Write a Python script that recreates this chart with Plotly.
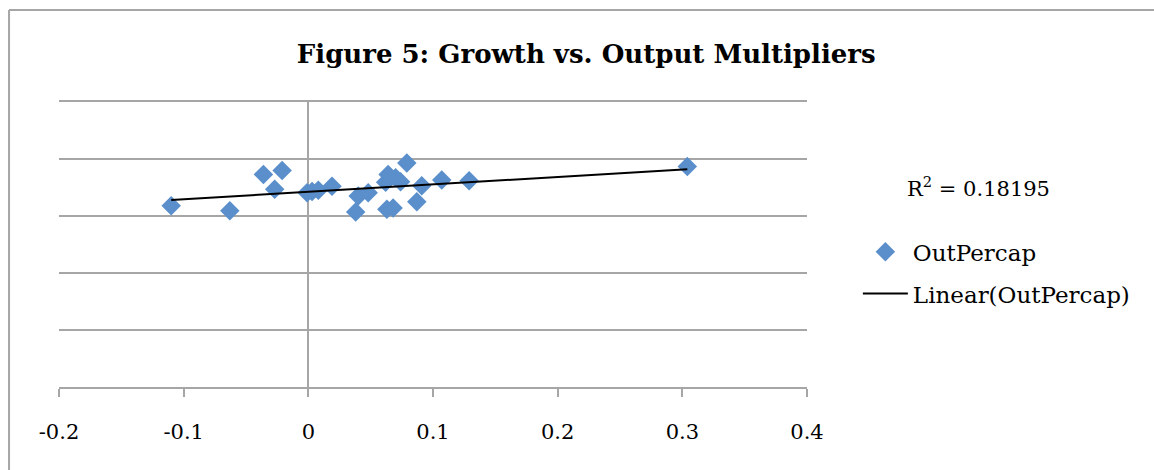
import numpy as np
import plotly.graph_objects as go

# Growth (x) vs. output multiplier per capita (y)
growth = [-0.110, -0.063, -0.036, -0.021, -0.027, -0.001, 0.003, 0.008, 0.019,
          0.038, 0.040, 0.048, 0.063, 0.068, 0.062, 0.064, 0.070, 0.074,
          0.079, 0.087, 0.091, 0.107, 0.129, 0.304]
out_percap = [3.18, 3.09, 3.73, 3.80, 3.47, 3.41, 3.43, 3.45, 3.52,
              3.07, 3.35, 3.41, 3.12, 3.14, 3.59, 3.73, 3.67, 3.60,
              3.93, 3.25, 3.53, 3.63, 3.62, 3.87]
x_ticks = [-0.2, -0.1, 0, 0.1, 0.2, 0.3, 0.4]
x_tick_text = ["-0.2", "-0.1", "0", "0.1", "0.2", "0.3", "0.4"]
r2_label = "R<sup>2</sup> = 0.18195"

# Least-squares trend line over the data span
gx = np.array(growth)
gy = np.array(out_percap)
slope, intercept = np.polyfit(gx, gy, 1)
fit_x = np.array([gx.min(), gx.max()])
fit_y = slope * fit_x + intercept

FONT = "DejaVu Serif"
GRID = "#a6a6a6"

fig = go.Figure()
fig.add_trace(go.Scatter(
    x=growth, y=out_percap, mode="markers", name="OutPercap", legendgroup="pts",
    marker=dict(symbol="diamond", size=15, color="#5b8fcb", line=dict(width=0)),
))
fig.add_trace(go.Scatter(
    x=fit_x, y=fit_y, mode="lines", name="Linear(OutPercap)", legendgroup="fit",
    line=dict(color="black", width=2),
))

# Outer chart frame (top and left edges)
fig.add_shape(type="line", xref="paper", yref="paper",
              x0=-0.0668, x1=1.47, y0=1.3228, y1=1.3228,
              line=dict(color=GRID, width=2))
fig.add_shape(type="line", xref="paper", yref="paper",
              x0=-0.0668, x1=-0.0668, y0=1.3228, y1=-0.30,
              line=dict(color=GRID, width=2))

fig.add_annotation(text=r2_label, xref="paper", yref="paper",
                   x=1.131, y=0.702, xanchor="left", yanchor="middle",
                   showarrow=False, font=dict(family=FONT, size=21, color="black"))

fig.update_layout(
    width=1154, height=470,
    margin=dict(l=59, r=347, t=102, b=83),
    paper_bgcolor="white", plot_bgcolor="white",
    title=dict(text="<b>Figure 5: Growth vs. Output Multipliers</b>",
               x=0.508, xanchor="center", y=0.885, yanchor="middle",
               font=dict(family=FONT, size=26, color="black")),
    showlegend=True,
    legend=dict(x=1.068, y=0.55, xanchor="left", yanchor="top",
                font=dict(family=FONT, size=23, color="black"),
                traceorder="grouped", tracegroupgap=9,
                bgcolor="rgba(0,0,0,0)", itemwidth=45),
    xaxis=dict(range=[-0.2, 0.4], tickvals=x_ticks, ticktext=x_tick_text,
               showgrid=False, zeroline=True, zerolinecolor=GRID, zerolinewidth=2,
               showline=True, linecolor=GRID, linewidth=2, mirror=True,
               ticks="outside", ticklen=8, tickcolor=GRID, tickwidth=2,
               ticklabelstandoff=17,
               tickfont=dict(family=FONT, size=21, color="black")),
    yaxis=dict(range=[0, 5], dtick=1, showticklabels=False,
               showgrid=True, gridcolor=GRID, gridwidth=2,
               zeroline=False, showline=False),
)

fig.write_html("out.html")
